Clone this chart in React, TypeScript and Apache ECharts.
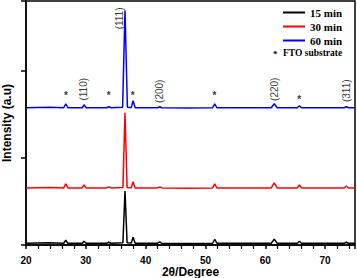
import React, { useEffect, useRef } from "react";
import * as echarts from "echarts";

// 2θ (degree) vs intensity (a.u., stacked offsets)
const series15: [number, number][] = [
  [20, 0.02], [24, 0.025], [26.3, 0.02], [26.65, 0.055], [27, 0.02], [29.4, 0.02], [29.7, 0.043], [30.05, 0.02],
  [33.5, 0.02], [33.85, 0.032], [34.2, 0.02], [36.2, 0.025], [36.55, 0.62], [36.9, 0.025], [37.6, 0.022],
  [37.9, 0.09], [38.25, 0.02], [42, 0.02], [42.35, 0.037], [42.7, 0.02], [47, 0.018], [51.2, 0.02], [51.55, 0.066],
  [51.9, 0.02], [61.0, 0.02], [61.5, 0.066], [62.0, 0.02], [65.35, 0.02], [65.7, 0.043], [66.05, 0.02],
  [73.2, 0.02], [73.55, 0.032], [73.9, 0.02], [75, 0.02],
];
const series30: [number, number][] = [
  [20, 0.655], [24, 0.66], [26.3, 0.655], [26.65, 0.701], [27, 0.655], [29.4, 0.655], [29.7, 0.689], [30.05, 0.655],
  [33.5, 0.655], [33.85, 0.667], [34.2, 0.655], [36.2, 0.66], [36.55, 1.517], [36.9, 0.66], [37.6, 0.657],
  [37.9, 0.725], [38.25, 0.655], [42, 0.655], [42.35, 0.667], [42.7, 0.655], [47, 0.652], [51.2, 0.655],
  [51.55, 0.701], [51.9, 0.655], [61.0, 0.655], [61.5, 0.712], [62.0, 0.655], [65.35, 0.655], [65.7, 0.689],
  [66.05, 0.655], [73.2, 0.655], [73.55, 0.678], [73.9, 0.655], [75, 0.655],
];
const series60: [number, number][] = [
  [20, 1.575], [24, 1.58], [26.3, 1.575], [26.65, 1.621], [27, 1.575], [29.4, 1.575], [29.7, 1.609], [30.05, 1.575],
  [33.5, 1.575], [33.85, 1.587], [34.2, 1.575], [36.15, 1.58], [36.55, 2.69], [36.95, 1.58], [37.6, 1.577],
  [37.9, 1.655], [38.25, 1.575], [42, 1.575], [42.35, 1.587], [42.7, 1.575], [47, 1.572], [51.2, 1.575],
  [51.55, 1.621], [51.9, 1.575], [61.0, 1.575], [61.5, 1.621], [62.0, 1.575], [65.35, 1.575], [65.7, 1.598],
  [66.05, 1.575], [73.2, 1.575], [73.55, 1.587], [73.9, 1.575], [75, 1.575],
];

const seriesNames = ["15 min", "30 min", "60 min"];
const seriesColors = ["#000000", "#ff0000", "#0000ff"];

// Miller index labels: [2θ, y, text]
const hklLabels: [number, number, string][] = [
  [35.6, 2.6, "(111)"],
  [29.67, 1.787, "(110)"],
  [42.33, 1.764, "(200)"],
  [61.5, 1.787, "(220)"],
  [73.5, 1.77, "(311)"],
];
// FTO substrate markers: [2θ, y]
const ftoMarks: [number, number][] = [
  [26.67, 1.71],
  [33.83, 1.71],
  [37.83, 1.71],
  [51.5, 1.71],
  [65.67, 1.665],
];

const xTicks = [20, 30, 40, 50, 60, 70];

export default function App() {
  const ref = useRef<HTMLDivElement>(null);
  useEffect(() => {
    if (!ref.current) return;
    const chart = echarts.init(ref.current, null, { renderer: "svg" });
    const sans = "Liberation Sans, Arial, sans-serif";
    const serif = "Liberation Serif, Times New Roman, serif";
    const data = [series15, series30, series60];
    chart.setOption({
      animation: false,
      grid: {
        left: 26,
        right: 2,
        top: 1,
        bottom: 33,
        outerBoundsMode: "none",
        containLabel: false,
        show: true,
        borderColor: "#000",
        borderWidth: 1.5,
      },
      legend: {
        data: seriesNames,
        orient: "vertical",
        left: 278,
        top: 2,
        icon: "rect",
        itemWidth: 22,
        itemHeight: 2,
        itemGap: 3,
        textStyle: { fontFamily: serif, fontWeight: "bold", fontSize: 11, color: "#000", lineHeight: 11 },
      },
      graphic: [
        { type: "text", left: 273, top: 49, style: { text: "*", font: `bold 9px ${serif}`, fill: "#000" } },
        { type: "text", left: 283, top: 48, style: { text: "FTO substrate", font: `bold 9.5px ${serif}`, fill: "#000" } },
      ],
      xAxis: {
        type: "value",
        min: 20,
        max: 75,
        interval: 10,
        name: "2θ/Degree",
        nameLocation: "middle",
        nameGap: 21,
        nameMoveOverlap: false,
        nameTextStyle: { fontFamily: sans, fontWeight: "bold", fontSize: 12, color: "#000" },
        axisLine: { show: true, lineStyle: { color: "#000", width: 1.5 } },
        axisTick: { show: true, length: 4, lineStyle: { color: "#000", width: 1.5 } },
        minorTick: { show: true, splitNumber: 5, length: 4, lineStyle: { color: "#000", width: 1.2 } },
        axisLabel: {
          margin: 10,
          fontFamily: sans,
          fontWeight: "bold",
          fontSize: 10,
          color: "#000",
          formatter: (v: number) => (xTicks.includes(v) ? String(v) : ""),
        },
        splitLine: { show: false },
      },
      yAxis: {
        type: "value",
        min: 0,
        max: 2.8,
        interval: 1,
        name: "Intensity (a.u)",
        nameLocation: "middle",
        nameGap: 13,
        nameMoveOverlap: false,
        nameTextStyle: { fontFamily: sans, fontWeight: "bold", fontSize: 12, color: "#000" },
        axisLine: { show: true, lineStyle: { color: "#000", width: 1.5 } },
        axisTick: { show: true, length: 5, lineStyle: { color: "#000", width: 1.5 } },
        axisLabel: { show: false },
        splitLine: { show: false },
      },
      series: [
        ...data.map((d, i) => ({
          name: seriesNames[i],
          type: "line",
          data: d,
          showSymbol: false,
          symbol: "none",
          color: seriesColors[i],
          lineStyle: { color: seriesColors[i], width: 1.5 },
          z: 2 + i,
        })),
        {
          type: "scatter",
          symbolSize: 0,
          silent: true,
          data: hklLabels.map((l) => ({ value: [l[0], l[1]], name: l[2] })),
          label: {
            show: true,
            position: "inside",
            rotate: 90,
            formatter: "{b}",
            fontFamily: sans,
            fontSize: 10,
            color: "#000",
          },
          z: 10,
        },
        {
          type: "scatter",
          symbolSize: 0,
          silent: true,
          data: ftoMarks.map((m) => ({ value: m })),
          label: {
            show: true,
            position: "inside",
            formatter: "*",
            fontFamily: sans,
            fontWeight: "bold",
            fontSize: 10,
            color: "#000",
          },
          z: 10,
        },
      ],
    });
    return () => chart.dispose();
  }, []);
  return <div ref={ref} style={{ position: "absolute", left: 0, top: 0, width: 357, height: 278 }} />;
}
